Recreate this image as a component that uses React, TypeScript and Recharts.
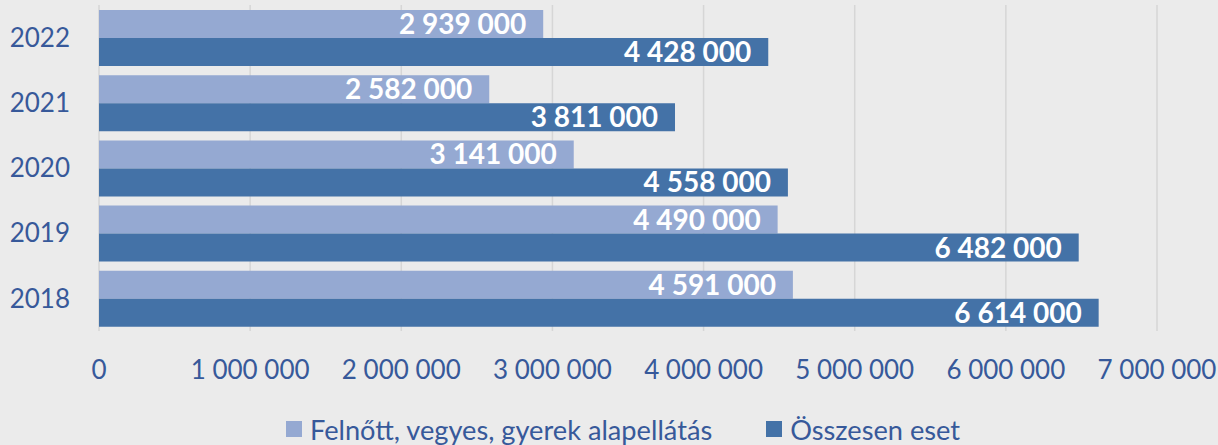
import { BarChart, Bar, CartesianGrid, XAxis, YAxis, Legend, LabelList } from "recharts";

const years = ["2022", "2021", "2020", "2019", "2018"];
const alapellatas = [2939000, 2582000, 3141000, 4490000, 4591000];
const osszesen = [4428000, 3811000, 4558000, 6482000, 6614000];
const xTicks = [0, 1000000, 2000000, 3000000, 4000000, 5000000, 6000000, 7000000];

const seriesNames = {
  alap: "Felnőtt, vegyes, gyerek alapellátás",
  ossz: "Összesen eset",
};

const chartData = years.map((year, i) => ({
  year,
  alap: alapellatas[i],
  ossz: osszesen[i],
}));

const FONT = "Lato, 'Open Sans', sans-serif";
const TEXT = "#37599a";

const fmt = (v: number) => String(v).replace(/\B(?=(\d{3})+(?!\d))/g, " ");

// eslint-disable-next-line @typescript-eslint/no-explicit-any
const LegendContent = ({ payload }: any) => (
  <div
    style={{
      height: 32,
      display: "flex",
      justifyContent: "center",
      alignItems: "center",
      fontFamily: FONT,
      fontSize: 27.2,
      color: TEXT,
      paddingLeft: 89,
    }}
  >
    {(payload || []).map((p: any, i: number) => (
      <div key={i} style={{ display: "flex", alignItems: "center", marginRight: i === 0 ? 54 : 0 }}>
        <span style={{ width: 16, height: 16, background: p.color, display: "inline-block", marginRight: 8 }} />
        <span>{p.value}</span>
      </div>
    ))}
  </div>
);

export default function App() {
  return (
    <div style={{ position: "absolute", left: 0, top: 0, width: 1218, height: 445, background: "#ebebeb" }}>
      <BarChart
        width={1218}
        height={445}
        data={chartData}
        layout="vertical"
        margin={{ top: 5, right: 61, left: 0, bottom: 0 }}
        barCategoryGap={4.6}
        barGap={0}
      >
        <CartesianGrid horizontal={false} stroke="#d6d6d6" strokeWidth={1.5} />
        <XAxis
          type="number"
          domain={[0, 7000000]}
          ticks={xTicks}
          tickFormatter={fmt}
          axisLine={false}
          tickLine={false}
          tickSize={0}
          tickMargin={30}
          height={82}
          interval={0}
          tick={{ fill: TEXT, fontSize: 26, fontFamily: FONT }}
        />
        <YAxis
          type="category"
          dataKey="year"
          width={99}
          axisLine={false}
          tickLine={false}
          tickSize={0}
          tickMargin={29}
          tick={{ fill: TEXT, fontSize: 26, fontFamily: FONT }}
        />
        <Legend verticalAlign="bottom" content={<LegendContent />} />
        <Bar dataKey="alap" name={seriesNames.alap} fill="#95a9d2" barSize={28} isAnimationActive={false}>
          <LabelList
            dataKey="alap"
            position="insideRight"
            offset={17}
            formatter={(v: any) => fmt(Number(v))}
            fill="#ffffff"
            style={{ fontSize: 28, fontWeight: 700, fontFamily: FONT }}
          />
        </Bar>
        <Bar dataKey="ossz" name={seriesNames.ossz} fill="#4472a7" barSize={28} isAnimationActive={false}>
          <LabelList
            dataKey="ossz"
            position="insideRight"
            offset={17}
            formatter={(v: any) => fmt(Number(v))}
            fill="#ffffff"
            style={{ fontSize: 28, fontWeight: 700, fontFamily: FONT }}
          />
        </Bar>
      </BarChart>
    </div>
  );
}
